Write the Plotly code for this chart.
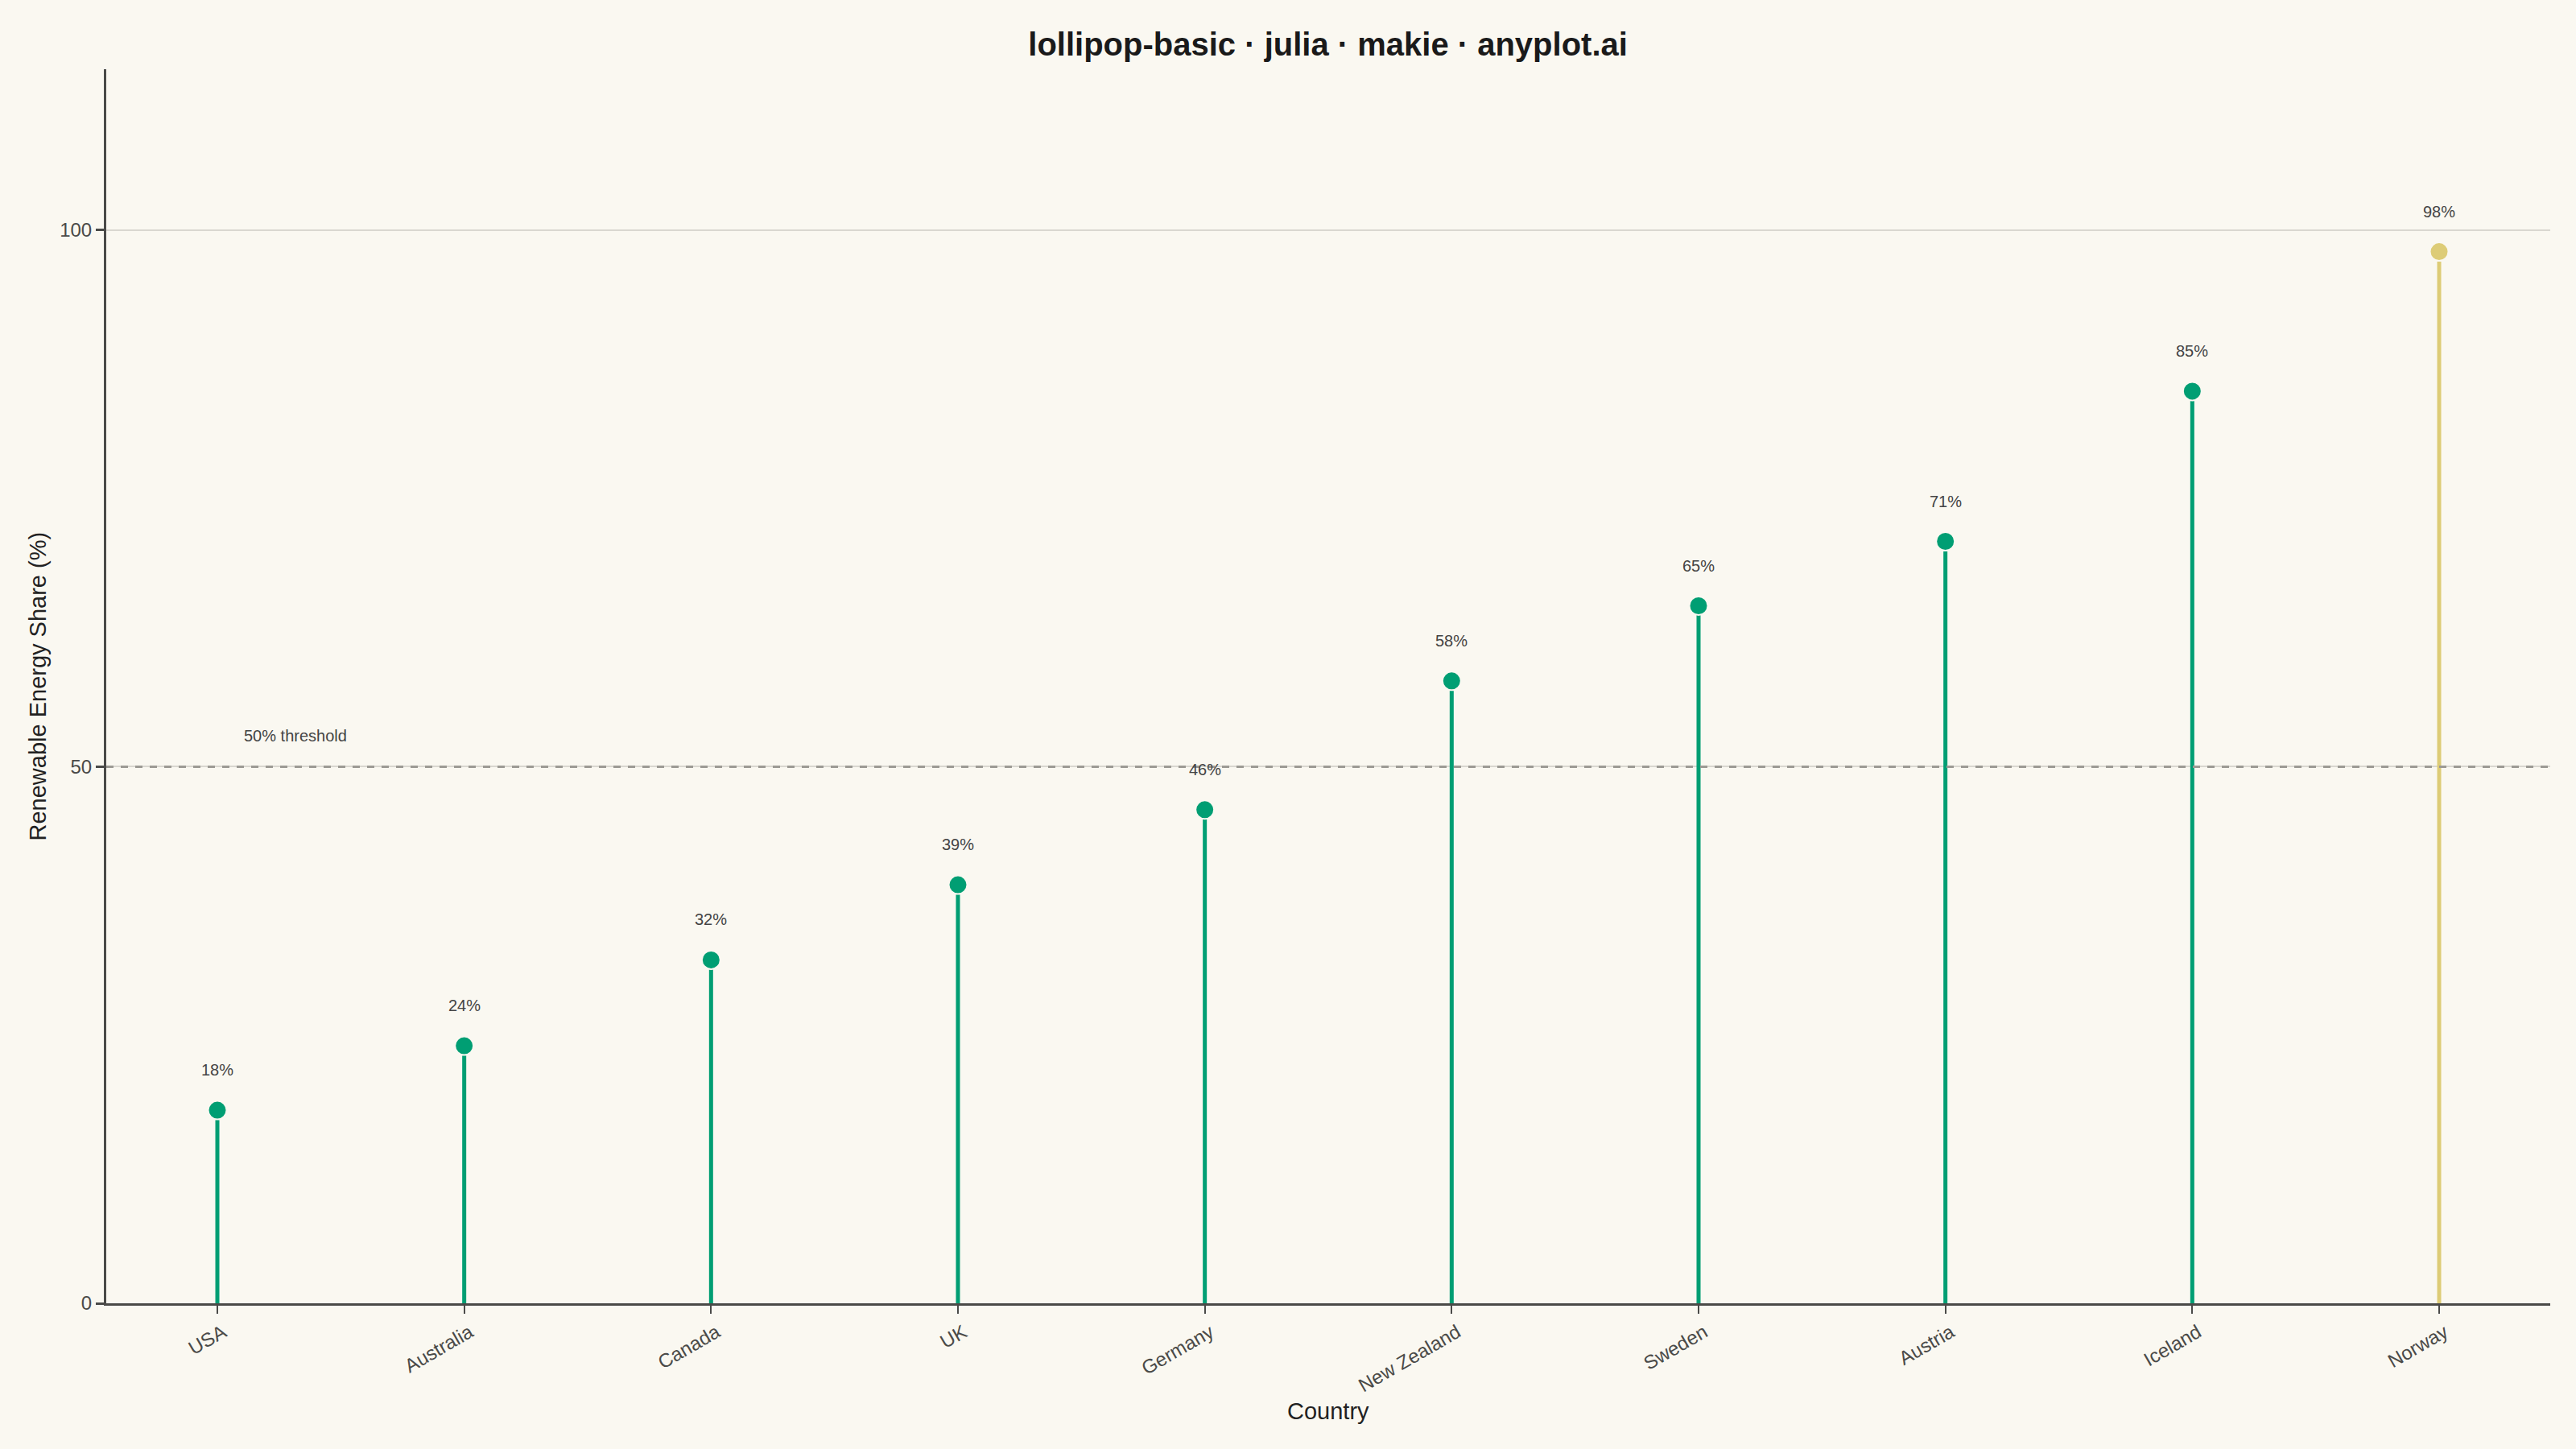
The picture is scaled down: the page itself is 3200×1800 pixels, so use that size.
import plotly.graph_objects as go

# ---- data ----
countries = ["USA", "Australia", "Canada", "UK", "Germany",
             "New Zealand", "Sweden", "Austria", "Iceland", "Norway"]
shares = [18, 24, 32, 39, 46, 58, 65, 71, 85, 98]
highlight_country = "Norway"
threshold = 50
y_ticks = [0, 50, 100]

# ---- styles ----
BG = "#FAF8F1"
GREEN = "#009E73"
YELLOW = "#DDCC77"
AXIS = "#4A4A48"
GRID = "#D9D7D0"
FONT = "Liberation Sans, Arial, Helvetica, sans-serif"

fig = go.Figure()

groups = [
    ([c for c in countries if c != highlight_country],
     [v for c, v in zip(countries, shares) if c != highlight_country], GREEN),
    ([c for c in countries if c == highlight_country],
     [v for c, v in zip(countries, shares) if c == highlight_country], YELLOW),
]

for xs, ys, col in groups:
    fig.add_trace(go.Scatter(
        x=xs, y=ys, mode="markers",
        marker=dict(size=23, color=col, line=dict(color=BG, width=2)),
        error_y=dict(type="data", symmetric=False, array=[0] * len(ys),
                     arrayminus=ys, color=col, thickness=5, width=0),
        hoverinfo="x+y", showlegend=False,
    ))

# value labels
for c, v in zip(countries, shares):
    fig.add_annotation(x=c, y=v, text=f"{v}%", showarrow=False,
                       yshift=50, font=dict(size=20, color="#444444", family=FONT))

# threshold line and label
fig.add_shape(type="line", xref="paper", x0=0, x1=1, yref="y", y0=threshold, y1=threshold,
              line=dict(color="#9C9A94", width=3, dash="dash"), layer="above")
fig.add_annotation(xref="paper", x=0.0557, y=threshold, yshift=38, xanchor="left",
                   yanchor="middle",
                   text=f"{threshold}% threshold", showarrow=False,
                   font=dict(size=20, color="#444444", family=FONT))

# axis titles as annotations
fig.add_annotation(xref="paper", yref="paper", x=0.5, y=0, yshift=-134,
                   xanchor="center", yanchor="middle",
                   text="Country", showarrow=False,
                   font=dict(size=29, color="#222222", family=FONT))
fig.add_annotation(xref="paper", yref="paper", x=-0.028, y=0.5, textangle=-90,
                   xanchor="center", yanchor="middle",
                   text="Renewable Energy Share (%)", showarrow=False,
                   font=dict(size=29, color="#222222", family=FONT))

fig.update_layout(
    width=3200, height=1800,
    paper_bgcolor=BG, plot_bgcolor=BG,
    margin=dict(l=132, r=32, t=86, b=181),
    font=dict(family=FONT, color=AXIS),
    title=dict(text="<b>lollipop-basic · julia · makie · anyplot.ai</b>",
               x=0.5155, xanchor="center", y=1 - 55 / 1800, yanchor="middle",
               yref="container",
               font=dict(size=40, color="#1A1A1A", family=FONT)),
    xaxis=dict(type="category", categoryorder="array", categoryarray=countries,
               range=[-0.45, len(countries) - 0.55],
               showgrid=False, zeroline=False,
               showline=True, linecolor=AXIS, linewidth=3,
               ticks="outside", ticklen=10, tickwidth=2, tickcolor=AXIS,
               ticklabelstandoff=0, ticklabelshift=7,
               tickangle=-30, tickfont=dict(size=24, color="#4A4A48")),
    yaxis=dict(range=[0, 115], tickvals=y_ticks,
               showgrid=True, gridcolor=GRID, gridwidth=2, zeroline=False,
               showline=True, linecolor=AXIS, linewidth=3,
               ticks="outside", ticklen=10, tickwidth=3, tickcolor=AXIS,
               tickfont=dict(size=24, color="#4A4A48")),
)

fig.write_html("out.html", config={"displayModeBar": False},
               post_script="document.body.style.margin='0';document.body.style.overflow='hidden';")
